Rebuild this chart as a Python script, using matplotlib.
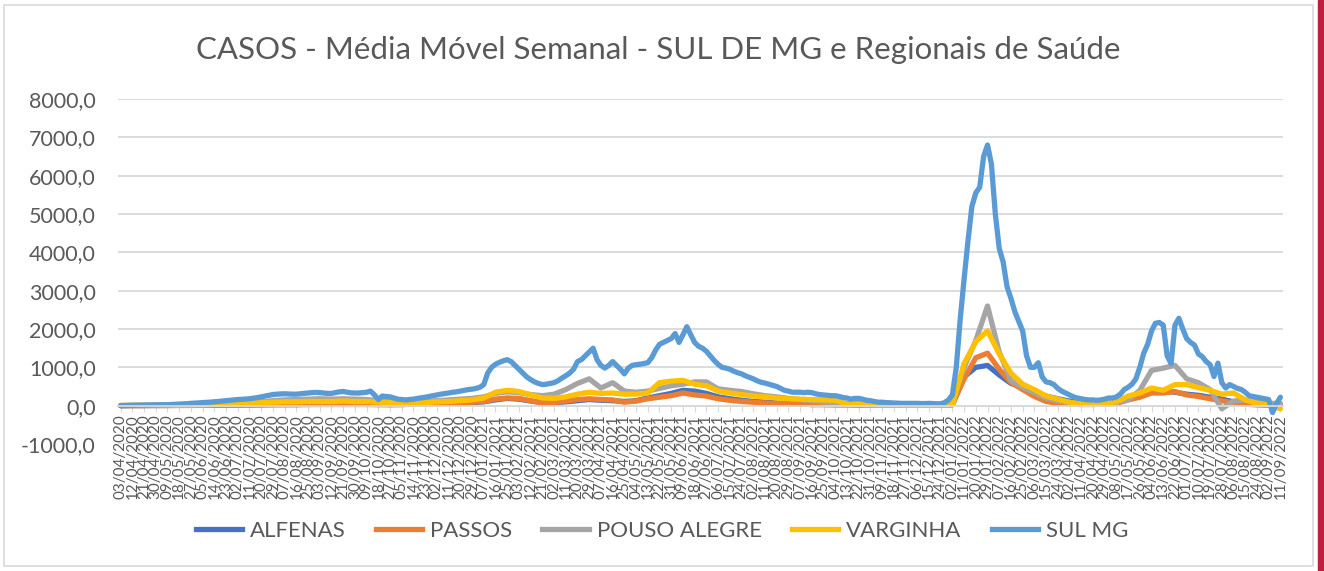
import matplotlib.pyplot as plt
import numpy as np
import pandas as pd
from matplotlib.patches import Rectangle
from matplotlib.lines import Line2D

plt.rcParams['font.family'] = ['Lato', 'DejaVu Sans']

# datas do eixo (a cada 9 dias) e pontos de 3 em 3 dias para o SUL MG
datas = pd.date_range('2020-04-03', '2022-09-11', freq='9D')
rotulos = [d.strftime('%d/%m/%Y') for d in datas]
dias9 = np.arange(0, 892, 9)
dias3 = np.arange(0, 892, 3)

alfenas = [0, 2, 3, 5, 5, 8, 10, 12, 15, 18, 20, 22, 25, 30, 30, 30, 35, 35, 35, 40, 40, 40, 35, 30,
           30, 35, 40, 50, 60, 70, 80, 100, 150, 190, 170, 120, 80, 80, 100, 130, 160, 140, 130, 110, 130, 200, 260, 320, 400, 380, 320,
           230, 180, 140, 110, 90, 70, 50, 40, 30, 30, 25, 25, 20, 20, 20, 20, 20, 20, 20, 20, 20,
           750, 1000, 1050, 800, 580, 500, 370, 250, 180, 120, 70, 50, 60, 80,
           160, 240, 350, 380, 350, 300, 270, 220, 170, 100, 60, 40, 20, 10]
passos = [0, 1, 2, 3, 4, 5, 6, 8, 10, 12, 14, 16, 20, 22, 25, 25, 28, 30, 30, 30, 30, 30, 25, 25,
          30, 40, 50, 60, 70, 80, 90, 110, 170, 200, 190, 130, 70, 80, 120, 160, 180, 160, 150, 90, 120, 180, 220, 260, 330, 280, 250,
          180, 140, 110, 90, 70, 60, 40, 40, 30, 30, 25, 25, 20, 20, 20, 20, 20, 20, 20, 20, 30,
          700, 1250, 1370, 950, 600, 420, 240, 110, 60, 40, 30, 30, 40, 60,
          150, 220, 330, 330, 370, 280, 240, 180, 130, 70, 40, 20, 10, 0]
pouso_alegre = [5, 8, 10, 12, 15, 20, 30, 40, 50, 60, 70, 80, 100, 130, 150, 160, 170, 180, 170, 180, 170, 160, 130, 120,
                80, 90, 110, 130, 150, 170, 190, 230, 320, 360, 340, 290, 260, 300, 420, 580, 700, 460, 600, 380, 350, 380, 450, 520, 560, 620, 620,
                440, 400, 370, 310, 260, 230, 190, 160, 130, 100, 80, 60, 50, 40, 30, 30, 25, 25, 25, 25, 50,
                1000, 1700, 2600, 1400, 650, 480, 340, 200, 120, 80, 50, 40, 50, 80,
                150, 400, 920, 980, 1050, 700, 600, 420, -80, 120, 150, 100, 60, 60]
varginha = [5, 6, 8, 10, 12, 14, 16, 20, 30, 40, 50, 60, 80, 90, 100, 100, 110, 110, 110, 120, 110, 110, 90, 80,
            60, 70, 80, 100, 110, 130, 150, 200, 350, 400, 370, 280, 200, 190, 230, 300, 350, 320, 330, 300, 300, 330, 600, 640, 660, 560, 520,
            380, 330, 290, 250, 230, 200, 180, 170, 160, 150, 140, 40, 30, 20, 15, 15, 10, 10, 10, 15, 20,
            1100, 1670, 1950, 1350, 850, 560, 420, 250, 170, 90, 50, 50, 60, 100,
            250, 330, 460, 400, 550, 550, 470, 400, 300, 330, 150, 60, 20, -80]
sul_mg = [0, 5, 8, 10, 12, 14, 15, 17, 18, 20,
          22, 24, 25, 30, 35, 40, 45, 52, 60, 65,
          72, 80, 85, 92, 100, 110, 120, 130, 140, 150,
          160, 165, 172, 180, 195, 210, 230, 250, 270, 290,
          300, 305, 310, 305, 300, 300, 310, 320, 330, 340,
          345, 340, 330, 320, 320, 340, 360, 370, 350, 335,
          330, 330, 340, 350, 380, 280, 160, 250, 240, 230,
          200, 170, 160, 150, 160, 170, 190, 205, 220, 240,
          260, 280, 300, 315, 330, 350, 360, 380, 400, 420,
          430, 450, 480, 550, 850, 1000, 1080, 1130, 1170, 1200,
          1150, 1050, 950, 850, 750, 680, 620, 580, 550, 560,
          580, 600, 650, 720, 780, 850, 950, 1150, 1200, 1300,
          1400, 1500, 1200, 1050, 980, 1050, 1150, 1050, 950, 830,
          980, 1050, 1070, 1080, 1100, 1120, 1250, 1450, 1600, 1650,
          1700, 1750, 1880, 1650, 1850, 2060, 1850, 1650, 1550, 1500,
          1420, 1300, 1180, 1080, 1000, 980, 950, 900, 860, 830,
          780, 740, 700, 650, 610, 590, 560, 530, 500, 450,
          400, 380, 350, 350, 350, 340, 350, 340, 310, 290,
          280, 270, 260, 260, 240, 210, 200, 170, 190, 190,
          170, 140, 130, 110, 90, 90, 80, 75, 70, 65,
          60, 60, 60, 60, 60, 55, 55, 60, 55, 50,
          50, 80, 150, 280, 1000, 2250, 3300, 4300, 5200, 5550,
          5700, 6500, 6800, 6300, 5000, 4100, 3750, 3100, 2800, 2450,
          2200, 1950, 1300, 1000, 1000, 1120, 750, 620, 600, 550,
          450, 380, 330, 280, 230, 200, 180, 160, 150, 150,
          140, 150, 170, 200, 200, 230, 300, 420, 480, 560,
          700, 1000, 1370, 1600, 1950, 2150, 2170, 2100, 1300, 1100,
          2100, 2280, 2000, 1750, 1650, 1580, 1350, 1280, 1150, 1070,
          760, 1110, 600, 460, 550, 500, 450, 420, 350, 260,
          240, 220, 200, 180, 160, -180, 50, 220]

nomes = ['ALFENAS', 'PASSOS', 'POUSO ALEGRE', 'VARGINHA', 'SUL MG']
cores = ['#4472C4', '#ED7D31', '#A5A5A5', '#FFC000', '#5B9BD5']
cinza = '#595959'

W, H = 1324, 571
fig = plt.figure(figsize=(W / 100, H / 100), dpi=100)
ax = fig.add_axes([118 / W, 1 - 444 / H, (1283 - 118) / W, (444 - 99) / H])

# a posição da espinha precisa vir antes dos ticks (ela reinicia os ticks)
for s in ['top', 'left', 'right']:
    ax.spines[s].set_visible(False)
ax.spines['bottom'].set_position(('data', 0))
ax.spines['bottom'].set_color('#d9d9d9')
ax.spines['bottom'].set_linewidth(1.3)

series = [(dias9, alfenas), (dias9, passos), (dias9, pouso_alegre), (dias9, varginha), (dias3, sul_mg)]
for (x, y), c in zip(series, cores):
    ax.plot(x, y, color=c, lw=3.8, solid_joinstyle='round', solid_capstyle='round')

ax.set_ylim(-1000, 8000)
yt = list(range(-1000, 8001, 1000))
ax.set_yticks(yt)
ax.set_yticklabels([f'{v:.1f}'.replace('.', ',') for v in yt])
ax.grid(axis='y', color='#d9d9d9', lw=1.3)
ax.set_axisbelow(True)

ax.set_xlim(-2, 893)
ax.set_xticks(dias9)
ax.set_xticklabels(rotulos)

ax.tick_params(axis='x', length=4, color='#d9d9d9', labelsize=11, labelcolor=cinza, pad=2, labelrotation=90)
ax.tick_params(axis='y', length=0, labelsize=15.5, labelcolor=cinza, pad=16)

fig.text(0.497, 1 - 50 / H, 'CASOS - Média Móvel Semanal - SUL DE MG e Regionais de Saúde',
         ha='center', va='center', fontsize=22.5, color=cinza)

handles = [Line2D([], [], color=c, lw=3.8) for c in cores]
fig.legend(handles, nomes, loc='center', bbox_to_anchor=(0.5, 1 - 531 / H), ncol=5, frameon=False,
           fontsize=16, labelcolor=cinza, handlelength=2.1, handletextpad=0.35, columnspacing=1.35)

# moldura do gráfico e faixa vermelha à direita
fig.add_artist(Rectangle((4 / W, 5 / H), (1313 - 4) / W, (566 - 5) / H, transform=fig.transFigure,
                         fill=False, edgecolor='#d9d9d9', lw=1.2))
fig.add_artist(Rectangle((1318 / W, 0), 6 / W, 1, transform=fig.transFigure, color='#BE1E3C'))

fig.savefig('out.png', dpi=100)
